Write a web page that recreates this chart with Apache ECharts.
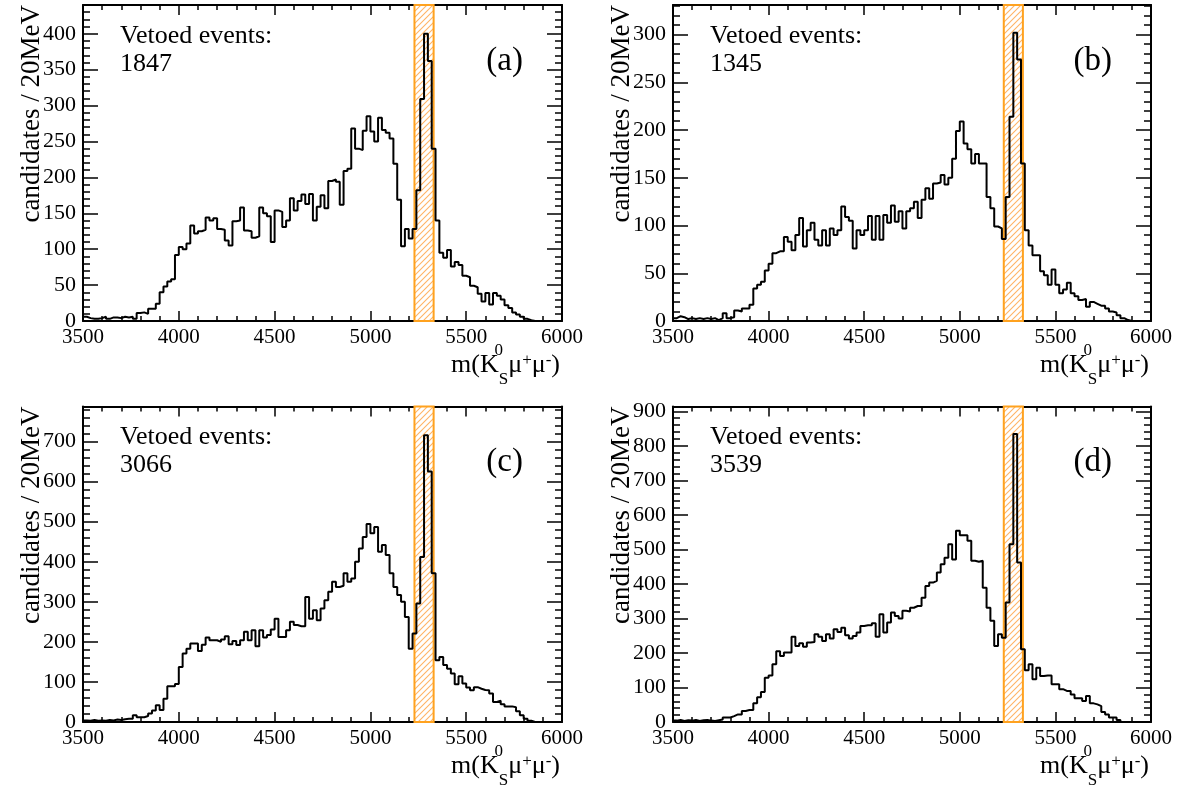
<!DOCTYPE html>
<html>
<head>
<meta charset="utf-8">
<script src="https://cdn.jsdelivr.net/npm/echarts@6/dist/echarts.min.js"></script>
<style>
html,body{margin:0;padding:0;background:#fff;}
#chart{width:1188px;height:787px;}
</style>
</head>
<body>
<div id="chart"></div>
<script>
// ---------------- data ----------------
const MASS_MIN = 3500;
const MASS_MAX = 6000;
const BIN_WIDTH = 20;           // MeV
const X_TICK_STEP = 500;
const VETO_WINDOW = [5230, 5330];

const panelNames = ['(a)', '(b)', '(c)', '(d)'];
const vetoedCounts = ['1847', '1345', '3066', '3539'];
const yAxisMax = [440, 331, 787.5, 914];
const yAxisStep = [50, 50, 100, 100];

const countsA = [
  6,4,3,3,4,6,3,5,5,4,
  6,5,6,3,11,12,10,17,17,24,
  40,48,55,58,92,103,100,108,133,122,
  125,127,144,140,143,128,127,112,105,139,
  140,158,126,125,116,118,158,150,146,110,
  154,152,131,140,171,154,167,176,163,177,
  140,159,175,157,195,197,194,162,209,212,
  268,240,238,265,285,264,250,283,266,262,
  254,219,169,104,128,115,128,182,309,400,
  362,240,140,95,88,99,76,82,78,63,
  61,49,47,38,27,39,23,39,35,30,
  22,18,12,9,6,3,1,0,0,0,
  0,0,0,0,0
];
const countsB = [
  3,5,4,2,3,2,3,2,3,2,
  3,1,3,8,3,4,11,10,13,13,
  17,34,38,41,53,60,71,73,73,88,
  83,74,90,108,78,95,103,85,79,95,
  79,97,90,95,120,109,105,76,95,90,
  95,110,85,110,85,111,103,121,104,115,
  97,115,118,125,108,127,139,128,144,145,
  153,143,150,170,199,209,186,180,165,175,
  165,165,130,118,99,97,86,130,214,302,
  274,165,95,79,69,69,52,48,38,54,
  38,29,33,40,29,26,22,23,15,20,
  18,16,16,13,10,9,6,3,1,0,
  0,0,0,0,0
];
const countsC = [
  4,3,5,3,4,3,5,4,6,5,
  7,8,8,17,12,12,15,21,29,42,
  30,58,89,89,95,137,171,183,196,196,
  177,193,211,204,204,200,206,214,194,202,
  192,204,225,204,229,189,229,211,217,231,
  258,212,212,229,250,242,239,239,312,258,
  279,254,283,304,325,350,337,340,371,350,
  358,400,433,462,494,471,487,425,442,417,
  371,337,317,300,262,183,221,296,412,716,
  625,371,154,162,142,133,121,94,114,96,
  86,79,87,83,80,79,71,50,53,44,
  39,39,37,27,17,8,3,0,0,0,
  0,0,0,0,0
];
const countsD = [
  4,6,3,5,4,6,3,5,6,4,
  3,5,7,13,13,17,22,22,32,35,
  35,54,72,87,128,135,167,205,191,201,
  201,247,220,228,218,230,232,254,247,235,
  254,242,269,261,273,251,242,249,259,278,
  280,280,286,247,312,259,288,317,307,300,
  322,320,331,336,336,360,394,404,409,433,
  457,476,515,471,554,541,541,525,467,464,
  467,389,331,293,220,254,244,346,515,834,
  462,211,150,167,124,157,133,135,135,109,
  109,95,90,90,80,69,69,61,75,54,
  51,46,29,22,13,13,6,0,0,0,
  0,0,0,0,0
];
const allCounts = [countsA, countsB, countsC, countsD];

// ---------------- layout ----------------
const gridBoxes = [
  {left: 83,  top: 5,     width: 479, height: 316},
  {left: 673, top: 5,     width: 478, height: 316},
  {left: 83,  top: 406.5, width: 479, height: 315.5},
  {left: 673, top: 406.5, width: 478, height: 315.5}
];
const SERIF = '"Liberation Serif", "Times New Roman", serif';

function hatchPattern() {
  const c = document.createElement('canvas');
  c.width = 6; c.height = 6;
  const g = c.getContext('2d');
  g.fillStyle = '#ffffff';
  g.fillRect(0, 0, 6, 6);
  g.strokeStyle = '#FFB466';
  g.lineWidth = 1.1;
  g.beginPath();
  g.moveTo(0, 6); g.lineTo(6, 0);
  g.moveTo(-1, 1); g.lineTo(1, -1);
  g.moveTo(5, 7); g.lineTo(7, 5);
  g.stroke();
  return c;
}
const hatch = {image: hatchPattern(), repeat: 'repeat'};

function histData(counts) {
  const d = counts.map((v, i) => [MASS_MIN + i * BIN_WIDTH, v]);
  d.push([MASS_MAX, counts[counts.length - 1]]);
  return d;
}

const grids = [], xAxes = [], yAxes = [], series = [], graphics = [];

gridBoxes.forEach((b, i) => {
  grids.push({left: b.left, top: b.top, width: b.width, height: b.height, containLabel: false, outerBoundsMode: 'none'});
  const tickCommon = {lineStyle: {color: '#000', width: 1.5}};
  ['bottom', 'top'].forEach((pos) => {
    xAxes.push({
      type: 'value', gridIndex: i, position: pos,
      min: MASS_MIN, max: MASS_MAX, interval: X_TICK_STEP,
      axisLine: {show: true, onZero: false, lineStyle: {color: '#000', width: 2}},
      axisTick: Object.assign({show: true, inside: true, length: 10}, tickCommon),
      minorTick: Object.assign({show: true, splitNumber: 5, length: 5}, tickCommon),
      axisLabel: {show: pos === 'bottom', margin: 6, fontFamily: SERIF, fontSize: 21, color: '#000',
                  formatter: (v) => String(v)},
      splitLine: {show: false}, minorSplitLine: {show: false}
    });
  });
  ['left', 'right'].forEach((pos) => {
    yAxes.push({
      type: 'value', gridIndex: i, position: pos,
      min: 0, max: yAxisMax[i], interval: yAxisStep[i],
      axisLine: {show: true, onZero: false, lineStyle: {color: '#000', width: 2}},
      axisTick: Object.assign({show: true, inside: true, length: 15}, tickCommon),
      minorTick: Object.assign({show: true, splitNumber: 5, length: 7}, tickCommon),
      axisLabel: {show: pos === 'left', margin: 7, fontFamily: SERIF, fontSize: 22, color: '#000',
                  showMaxLabel: false, formatter: (v) => String(v)},
      splitLine: {show: false}, minorSplitLine: {show: false}
    });
  });

  series.push({
    type: 'line',
    xAxisIndex: 2 * i, yAxisIndex: 2 * i,
    data: histData(allCounts[i]),
    step: 'end', showSymbol: false, symbol: 'none',
    lineStyle: {color: '#000', width: 2},
    z: 5,
    silent: true,
    markArea: {
      silent: true,
      label: {show: false},
      itemStyle: {color: hatch, opacity: 1, borderColor: '#FFA21F', borderWidth: 2},
      data: [[{xAxis: VETO_WINDOW[0]}, {xAxis: VETO_WINDOW[1]}]]
    }
  });

  const right = b.left + b.width, bottom = b.top + b.height;
  graphics.push(
    {type: 'text', x: b.left + 37, y: b.top + 31, silent: true,
     style: {text: 'Vetoed events:', font: '26px ' + SERIF, fill: '#000', verticalAlign: 'middle'}},
    {type: 'text', x: b.left + 37, y: b.top + 59, silent: true,
     style: {text: vetoedCounts[i], font: '26px ' + SERIF, fill: '#000', verticalAlign: 'middle'}},
    {type: 'text', x: right - 39, y: b.top + 56, silent: true,
     style: {text: panelNames[i], font: '33px ' + SERIF, fill: '#000', align: 'right', verticalAlign: 'middle'}},
    {type: 'text', x: b.left - 51, y: b.top, rotation: Math.PI / 2, silent: true,
     style: {text: 'candidates / 20MeV', font: '27px ' + SERIF, fill: '#000', align: 'right', verticalAlign: 'middle'}},
    {type: 'text', x: right - 2, y: bottom + 44, silent: true,
     style: {
       text: 'm(K{z|0}{s|S}μ{p|+}μ{p|-})',
       font: '26px ' + SERIF, fill: '#000', align: 'right', verticalAlign: 'middle', lineHeight: 46,
       rich: {
         z: {font: '17px ' + SERIF, fontSize: 17, fontFamily: SERIF, lineHeight: 17, verticalAlign: 'top', width: 0, align: 'left', fill: '#000'},
         s: {font: '17px ' + SERIF, fontSize: 17, fontFamily: SERIF, lineHeight: 17, verticalAlign: 'bottom', fill: '#000'},
         p: {font: '17px ' + SERIF, fontSize: 17, fontFamily: SERIF, lineHeight: 17, verticalAlign: 'top', padding: [10, 0, 0, 0], fill: '#000'}
       }
     }}
  );
});

const chart = echarts.init(document.getElementById('chart'), null, {renderer: 'canvas'});
chart.setOption({
  animation: false,
  backgroundColor: '#fff',
  grid: grids,
  xAxis: xAxes,
  yAxis: yAxes,
  series: series,
  graphic: graphics
});
</script>
</body>
</html>
